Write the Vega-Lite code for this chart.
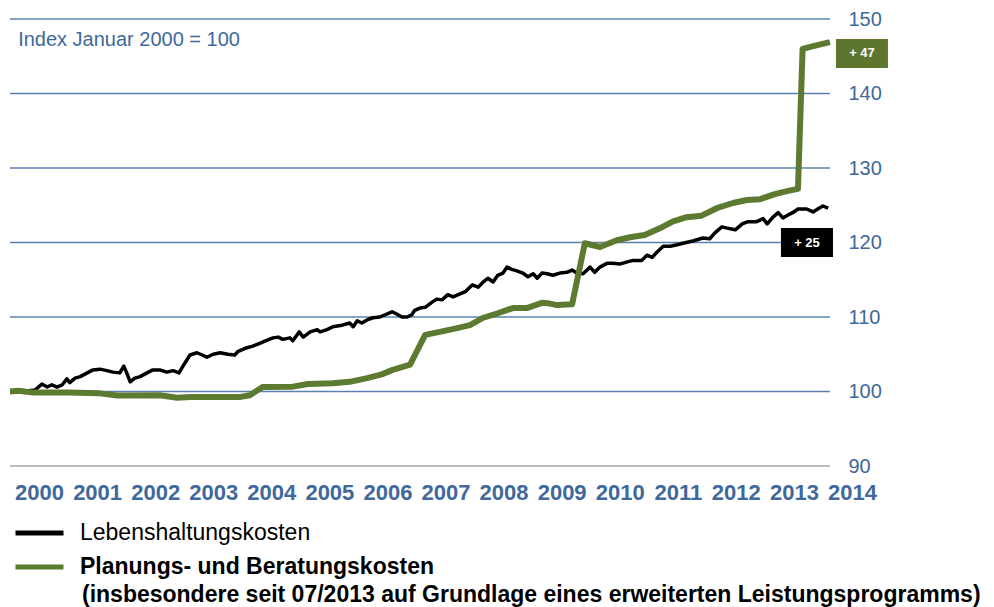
{
  "$schema": "https://vega.github.io/schema/vega-lite/v6.json",
  "width": 871,
  "height": 447,
  "autosize": {"type": "none"},
  "padding": {"left": 10, "top": 19, "right": 113, "bottom": 141},
  "config": {
    "font": "Liberation Sans",
    "view": {"stroke": null},
    "axis": {"title": null, "grid": false, "domain": false, "ticks": false}
  },
  "datasets": {
    "lebens": [
      {"t": 2000.00, "v": 100.0, "s": "Lebenshaltungskosten"},
      {"t": 2000.21, "v": 100.0, "s": "Lebenshaltungskosten"},
      {"t": 2000.43, "v": 100.2, "s": "Lebenshaltungskosten"},
      {"t": 2000.55, "v": 101.0, "s": "Lebenshaltungskosten"},
      {"t": 2000.64, "v": 100.6, "s": "Lebenshaltungskosten"},
      {"t": 2000.72, "v": 100.9, "s": "Lebenshaltungskosten"},
      {"t": 2000.81, "v": 100.6, "s": "Lebenshaltungskosten"},
      {"t": 2000.90, "v": 100.9, "s": "Lebenshaltungskosten"},
      {"t": 2000.98, "v": 101.7, "s": "Lebenshaltungskosten"},
      {"t": 2001.03, "v": 101.2, "s": "Lebenshaltungskosten"},
      {"t": 2001.12, "v": 101.8, "s": "Lebenshaltungskosten"},
      {"t": 2001.21, "v": 102.0, "s": "Lebenshaltungskosten"},
      {"t": 2001.33, "v": 102.5, "s": "Lebenshaltungskosten"},
      {"t": 2001.43, "v": 102.9, "s": "Lebenshaltungskosten"},
      {"t": 2001.55, "v": 103.0, "s": "Lebenshaltungskosten"},
      {"t": 2001.67, "v": 102.8, "s": "Lebenshaltungskosten"},
      {"t": 2001.77, "v": 102.6, "s": "Lebenshaltungskosten"},
      {"t": 2001.89, "v": 102.5, "s": "Lebenshaltungskosten"},
      {"t": 2001.96, "v": 103.4, "s": "Lebenshaltungskosten"},
      {"t": 2002.01, "v": 102.5, "s": "Lebenshaltungskosten"},
      {"t": 2002.07, "v": 101.3, "s": "Lebenshaltungskosten"},
      {"t": 2002.15, "v": 101.8, "s": "Lebenshaltungskosten"},
      {"t": 2002.24, "v": 102.0, "s": "Lebenshaltungskosten"},
      {"t": 2002.36, "v": 102.5, "s": "Lebenshaltungskosten"},
      {"t": 2002.46, "v": 102.9, "s": "Lebenshaltungskosten"},
      {"t": 2002.58, "v": 102.9, "s": "Lebenshaltungskosten"},
      {"t": 2002.70, "v": 102.6, "s": "Lebenshaltungskosten"},
      {"t": 2002.81, "v": 102.8, "s": "Lebenshaltungskosten"},
      {"t": 2002.91, "v": 102.5, "s": "Lebenshaltungskosten"},
      {"t": 2003.01, "v": 103.8, "s": "Lebenshaltungskosten"},
      {"t": 2003.10, "v": 104.9, "s": "Lebenshaltungskosten"},
      {"t": 2003.22, "v": 105.2, "s": "Lebenshaltungskosten"},
      {"t": 2003.31, "v": 104.9, "s": "Lebenshaltungskosten"},
      {"t": 2003.39, "v": 104.6, "s": "Lebenshaltungskosten"},
      {"t": 2003.50, "v": 105.0, "s": "Lebenshaltungskosten"},
      {"t": 2003.62, "v": 105.2, "s": "Lebenshaltungskosten"},
      {"t": 2003.75, "v": 105.0, "s": "Lebenshaltungskosten"},
      {"t": 2003.87, "v": 104.9, "s": "Lebenshaltungskosten"},
      {"t": 2003.93, "v": 105.4, "s": "Lebenshaltungskosten"},
      {"t": 2004.05, "v": 105.8, "s": "Lebenshaltungskosten"},
      {"t": 2004.18, "v": 106.1, "s": "Lebenshaltungskosten"},
      {"t": 2004.31, "v": 106.5, "s": "Lebenshaltungskosten"},
      {"t": 2004.43, "v": 106.9, "s": "Lebenshaltungskosten"},
      {"t": 2004.53, "v": 107.2, "s": "Lebenshaltungskosten"},
      {"t": 2004.62, "v": 107.3, "s": "Lebenshaltungskosten"},
      {"t": 2004.70, "v": 107.0, "s": "Lebenshaltungskosten"},
      {"t": 2004.82, "v": 107.2, "s": "Lebenshaltungskosten"},
      {"t": 2004.87, "v": 106.8, "s": "Lebenshaltungskosten"},
      {"t": 2004.98, "v": 108.0, "s": "Lebenshaltungskosten"},
      {"t": 2005.05, "v": 107.3, "s": "Lebenshaltungskosten"},
      {"t": 2005.17, "v": 108.0, "s": "Lebenshaltungskosten"},
      {"t": 2005.29, "v": 108.3, "s": "Lebenshaltungskosten"},
      {"t": 2005.34, "v": 108.0, "s": "Lebenshaltungskosten"},
      {"t": 2005.46, "v": 108.3, "s": "Lebenshaltungskosten"},
      {"t": 2005.56, "v": 108.7, "s": "Lebenshaltungskosten"},
      {"t": 2005.72, "v": 108.9, "s": "Lebenshaltungskosten"},
      {"t": 2005.85, "v": 109.2, "s": "Lebenshaltungskosten"},
      {"t": 2005.91, "v": 108.7, "s": "Lebenshaltungskosten"},
      {"t": 2005.98, "v": 109.5, "s": "Lebenshaltungskosten"},
      {"t": 2006.06, "v": 109.2, "s": "Lebenshaltungskosten"},
      {"t": 2006.15, "v": 109.6, "s": "Lebenshaltungskosten"},
      {"t": 2006.25, "v": 109.9, "s": "Lebenshaltungskosten"},
      {"t": 2006.37, "v": 110.0, "s": "Lebenshaltungskosten"},
      {"t": 2006.46, "v": 110.3, "s": "Lebenshaltungskosten"},
      {"t": 2006.58, "v": 110.7, "s": "Lebenshaltungskosten"},
      {"t": 2006.66, "v": 110.4, "s": "Lebenshaltungskosten"},
      {"t": 2006.75, "v": 110.0, "s": "Lebenshaltungskosten"},
      {"t": 2006.84, "v": 110.0, "s": "Lebenshaltungskosten"},
      {"t": 2006.92, "v": 110.3, "s": "Lebenshaltungskosten"},
      {"t": 2006.97, "v": 110.9, "s": "Lebenshaltungskosten"},
      {"t": 2007.06, "v": 111.2, "s": "Lebenshaltungskosten"},
      {"t": 2007.15, "v": 111.3, "s": "Lebenshaltungskosten"},
      {"t": 2007.27, "v": 112.0, "s": "Lebenshaltungskosten"},
      {"t": 2007.35, "v": 112.4, "s": "Lebenshaltungskosten"},
      {"t": 2007.44, "v": 112.3, "s": "Lebenshaltungskosten"},
      {"t": 2007.54, "v": 113.0, "s": "Lebenshaltungskosten"},
      {"t": 2007.63, "v": 112.7, "s": "Lebenshaltungskosten"},
      {"t": 2007.75, "v": 113.1, "s": "Lebenshaltungskosten"},
      {"t": 2007.84, "v": 113.4, "s": "Lebenshaltungskosten"},
      {"t": 2007.96, "v": 114.3, "s": "Lebenshaltungskosten"},
      {"t": 2008.06, "v": 114.0, "s": "Lebenshaltungskosten"},
      {"t": 2008.15, "v": 114.7, "s": "Lebenshaltungskosten"},
      {"t": 2008.23, "v": 115.2, "s": "Lebenshaltungskosten"},
      {"t": 2008.32, "v": 114.7, "s": "Lebenshaltungskosten"},
      {"t": 2008.40, "v": 115.6, "s": "Lebenshaltungskosten"},
      {"t": 2008.49, "v": 115.9, "s": "Lebenshaltungskosten"},
      {"t": 2008.56, "v": 116.7, "s": "Lebenshaltungskosten"},
      {"t": 2008.64, "v": 116.4, "s": "Lebenshaltungskosten"},
      {"t": 2008.73, "v": 116.2, "s": "Lebenshaltungskosten"},
      {"t": 2008.83, "v": 115.9, "s": "Lebenshaltungskosten"},
      {"t": 2008.92, "v": 115.4, "s": "Lebenshaltungskosten"},
      {"t": 2009.01, "v": 115.8, "s": "Lebenshaltungskosten"},
      {"t": 2009.08, "v": 115.2, "s": "Lebenshaltungskosten"},
      {"t": 2009.16, "v": 115.9, "s": "Lebenshaltungskosten"},
      {"t": 2009.25, "v": 115.8, "s": "Lebenshaltungskosten"},
      {"t": 2009.35, "v": 115.6, "s": "Lebenshaltungskosten"},
      {"t": 2009.47, "v": 115.9, "s": "Lebenshaltungskosten"},
      {"t": 2009.59, "v": 116.0, "s": "Lebenshaltungskosten"},
      {"t": 2009.68, "v": 116.3, "s": "Lebenshaltungskosten"},
      {"t": 2009.76, "v": 115.9, "s": "Lebenshaltungskosten"},
      {"t": 2009.87, "v": 115.8, "s": "Lebenshaltungskosten"},
      {"t": 2009.99, "v": 116.7, "s": "Lebenshaltungskosten"},
      {"t": 2010.07, "v": 116.0, "s": "Lebenshaltungskosten"},
      {"t": 2010.16, "v": 116.7, "s": "Lebenshaltungskosten"},
      {"t": 2010.28, "v": 117.2, "s": "Lebenshaltungskosten"},
      {"t": 2010.38, "v": 117.2, "s": "Lebenshaltungskosten"},
      {"t": 2010.50, "v": 117.1, "s": "Lebenshaltungskosten"},
      {"t": 2010.63, "v": 117.4, "s": "Lebenshaltungskosten"},
      {"t": 2010.73, "v": 117.6, "s": "Lebenshaltungskosten"},
      {"t": 2010.88, "v": 117.6, "s": "Lebenshaltungskosten"},
      {"t": 2010.97, "v": 118.3, "s": "Lebenshaltungskosten"},
      {"t": 2011.06, "v": 118.0, "s": "Lebenshaltungskosten"},
      {"t": 2011.14, "v": 118.7, "s": "Lebenshaltungskosten"},
      {"t": 2011.25, "v": 119.5, "s": "Lebenshaltungskosten"},
      {"t": 2011.37, "v": 119.5, "s": "Lebenshaltungskosten"},
      {"t": 2011.49, "v": 119.7, "s": "Lebenshaltungskosten"},
      {"t": 2011.59, "v": 119.9, "s": "Lebenshaltungskosten"},
      {"t": 2011.76, "v": 120.2, "s": "Lebenshaltungskosten"},
      {"t": 2011.93, "v": 120.6, "s": "Lebenshaltungskosten"},
      {"t": 2012.05, "v": 120.5, "s": "Lebenshaltungskosten"},
      {"t": 2012.14, "v": 121.3, "s": "Lebenshaltungskosten"},
      {"t": 2012.26, "v": 122.1, "s": "Lebenshaltungskosten"},
      {"t": 2012.37, "v": 121.9, "s": "Lebenshaltungskosten"},
      {"t": 2012.49, "v": 121.7, "s": "Lebenshaltungskosten"},
      {"t": 2012.61, "v": 122.5, "s": "Lebenshaltungskosten"},
      {"t": 2012.71, "v": 122.8, "s": "Lebenshaltungskosten"},
      {"t": 2012.86, "v": 122.8, "s": "Lebenshaltungskosten"},
      {"t": 2012.97, "v": 123.2, "s": "Lebenshaltungskosten"},
      {"t": 2013.04, "v": 122.5, "s": "Lebenshaltungskosten"},
      {"t": 2013.14, "v": 123.4, "s": "Lebenshaltungskosten"},
      {"t": 2013.23, "v": 124.0, "s": "Lebenshaltungskosten"},
      {"t": 2013.31, "v": 123.3, "s": "Lebenshaltungskosten"},
      {"t": 2013.40, "v": 123.7, "s": "Lebenshaltungskosten"},
      {"t": 2013.48, "v": 124.0, "s": "Lebenshaltungskosten"},
      {"t": 2013.57, "v": 124.5, "s": "Lebenshaltungskosten"},
      {"t": 2013.72, "v": 124.5, "s": "Lebenshaltungskosten"},
      {"t": 2013.83, "v": 124.1, "s": "Lebenshaltungskosten"},
      {"t": 2013.93, "v": 124.6, "s": "Lebenshaltungskosten"},
      {"t": 2014.00, "v": 124.9, "s": "Lebenshaltungskosten"},
      {"t": 2014.09, "v": 124.6, "s": "Lebenshaltungskosten"}
    ],
    "planung": [
      {"t": 2000.00, "v": 100.0, "s": "Planungs- und Beratungskosten"},
      {"t": 2000.15, "v": 100.1, "s": "Planungs- und Beratungskosten"},
      {"t": 2000.40, "v": 99.85, "s": "Planungs- und Beratungskosten"},
      {"t": 2001.00, "v": 99.85, "s": "Planungs- und Beratungskosten"},
      {"t": 2001.55, "v": 99.75, "s": "Planungs- und Beratungskosten"},
      {"t": 2001.85, "v": 99.45, "s": "Planungs- und Beratungskosten"},
      {"t": 2002.58, "v": 99.5, "s": "Planungs- und Beratungskosten"},
      {"t": 2002.88, "v": 99.15, "s": "Planungs- und Beratungskosten"},
      {"t": 2003.10, "v": 99.25, "s": "Planungs- und Beratungskosten"},
      {"t": 2003.95, "v": 99.25, "s": "Planungs- und Beratungskosten"},
      {"t": 2004.13, "v": 99.5, "s": "Planungs- und Beratungskosten"},
      {"t": 2004.35, "v": 100.6, "s": "Planungs- und Beratungskosten"},
      {"t": 2004.87, "v": 100.65, "s": "Planungs- und Beratungskosten"},
      {"t": 2005.13, "v": 101.0, "s": "Planungs- und Beratungskosten"},
      {"t": 2005.56, "v": 101.1, "s": "Planungs- und Beratungskosten"},
      {"t": 2005.85, "v": 101.3, "s": "Planungs- und Beratungskosten"},
      {"t": 2006.15, "v": 101.8, "s": "Planungs- und Beratungskosten"},
      {"t": 2006.40, "v": 102.3, "s": "Planungs- und Beratungskosten"},
      {"t": 2006.59, "v": 102.9, "s": "Planungs- und Beratungskosten"},
      {"t": 2006.89, "v": 103.6, "s": "Planungs- und Beratungskosten"},
      {"t": 2007.15, "v": 107.6, "s": "Planungs- und Beratungskosten"},
      {"t": 2007.40, "v": 108.0, "s": "Planungs- und Beratungskosten"},
      {"t": 2007.70, "v": 108.5, "s": "Planungs- und Beratungskosten"},
      {"t": 2007.92, "v": 108.9, "s": "Planungs- und Beratungskosten"},
      {"t": 2008.15, "v": 109.9, "s": "Planungs- und Beratungskosten"},
      {"t": 2008.40, "v": 110.5, "s": "Planungs- und Beratungskosten"},
      {"t": 2008.66, "v": 111.2, "s": "Planungs- und Beratungskosten"},
      {"t": 2008.90, "v": 111.2, "s": "Planungs- und Beratungskosten"},
      {"t": 2009.16, "v": 111.9, "s": "Planungs- und Beratungskosten"},
      {"t": 2009.30, "v": 111.8, "s": "Planungs- und Beratungskosten"},
      {"t": 2009.42, "v": 111.6, "s": "Planungs- und Beratungskosten"},
      {"t": 2009.68, "v": 111.7, "s": "Planungs- und Beratungskosten"},
      {"t": 2009.90, "v": 119.9, "s": "Planungs- und Beratungskosten"},
      {"t": 2010.16, "v": 119.4, "s": "Planungs- und Beratungskosten"},
      {"t": 2010.45, "v": 120.3, "s": "Planungs- und Beratungskosten"},
      {"t": 2010.68, "v": 120.7, "s": "Planungs- und Beratungskosten"},
      {"t": 2010.93, "v": 121.0, "s": "Planungs- und Beratungskosten"},
      {"t": 2011.19, "v": 121.9, "s": "Planungs- und Beratungskosten"},
      {"t": 2011.41, "v": 122.8, "s": "Planungs- und Beratungskosten"},
      {"t": 2011.65, "v": 123.4, "s": "Planungs- und Beratungskosten"},
      {"t": 2011.91, "v": 123.6, "s": "Planungs- und Beratungskosten"},
      {"t": 2012.17, "v": 124.6, "s": "Planungs- und Beratungskosten"},
      {"t": 2012.45, "v": 125.3, "s": "Planungs- und Beratungskosten"},
      {"t": 2012.69, "v": 125.7, "s": "Planungs- und Beratungskosten"},
      {"t": 2012.91, "v": 125.8, "s": "Planungs- und Beratungskosten"},
      {"t": 2013.17, "v": 126.5, "s": "Planungs- und Beratungskosten"},
      {"t": 2013.38, "v": 126.9, "s": "Planungs- und Beratungskosten"},
      {"t": 2013.57, "v": 127.2, "s": "Planungs- und Beratungskosten"},
      {"t": 2013.65, "v": 146.0, "s": "Planungs- und Beratungskosten"},
      {"t": 2013.85, "v": 146.4, "s": "Planungs- und Beratungskosten"},
      {"t": 2014.12, "v": 146.9, "s": "Planungs- und Beratungskosten"}
    ]
  },
  "layer": [
    {
      "data": {"values": [{"g": 90}, {"g": 100}, {"g": 110}, {"g": 120}, {"g": 130}, {"g": 140}, {"g": 150}]},
      "mark": {"type": "rule", "strokeWidth": 1.5},
      "encoding": {
        "x": {
          "datum": 2000, "type": "quantitative",
          "scale": {"domain": [2000, 2015], "nice": false, "zero": false},
          "axis": {
            "orient": "bottom",
            "values": [2000.5, 2001.5, 2002.5, 2003.5, 2004.5, 2005.5, 2006.5, 2007.5, 2008.5, 2009.5, 2010.5, 2011.5, 2012.5, 2013.5, 2014.5],
            "labelExpr": "'' + floor(datum.value)",
            "labelFontSize": 22, "labelFontWeight": "bold", "labelColor": "#40689a",
            "labelPadding": 16, "labelFlush": false, "labelOverlap": false, "title": null
          }
        },
        "x2": {"datum": 2014.12},
        "y": {
          "field": "g", "type": "quantitative",
          "scale": {"domain": [90, 150], "nice": false, "zero": false},
          "axis": {
            "orient": "right", "offset": -51,
            "values": [90, 100, 110, 120, 130, 140, 150],
            "labelFontSize": 20, "labelColor": "#40689a", "labelPadding": 18, "title": null
          }
        },
        "stroke": {"condition": {"test": "datum.g == 90", "value": "#a8a8a8"}, "value": "#5b80ae"}
      }
    },
    {
      "data": {"name": "lebens"},
      "mark": {"type": "line", "strokeWidth": 3.5, "strokeJoin": "round"},
      "encoding": {
        "x": {"field": "t", "type": "quantitative", "title": null},
        "y": {"field": "v", "type": "quantitative", "title": null},
        "color": {
          "field": "s", "type": "nominal",
          "scale": {"domain": ["Lebenshaltungskosten", "Planungs- und Beratungskosten"], "range": ["#000000", "#5d7a31"]},
          "legend": {
            "title": "(insbesondere seit 07/2013 auf Grundlage eines erweiterten Leistungsprogramms)",
            "titleOrient": "bottom", "titleAnchor": "start", "titleFontSize": 23, "titleFontWeight": "bold",
            "titleColor": "#000000", "titlePadding": 14, "titleLimit": 2000, "titleBaseline": "middle",
            "orient": "none", "legendX": 3, "legendY": 500, "padding": 0,
            "symbolType": "stroke", "symbolSize": 2304, "symbolStrokeWidth": 5,
            "clipHeight": 28,
            "labelFontSize": 23, "labelColor": "#000000", "labelOffset": 14, "labelLimit": 2000,
            "rowPadding": 6,
            "encode": {
              "labels": {"update": {"fontWeight": {"signal": "datum.value == 'Planungs- und Beratungskosten' ? 'bold' : 'normal'"}}},
              "title": {"update": {"dx": {"value": 69}}}
            }
          }
        }
      }
    },
    {
      "data": {"name": "planung"},
      "mark": {"type": "line", "strokeWidth": 6, "strokeJoin": "round"},
      "encoding": {
        "x": {"field": "t", "type": "quantitative", "title": null},
        "y": {"field": "v", "type": "quantitative", "title": null},
        "color": {"field": "s", "type": "nominal"}
      }
    },
    {
      "data": {"values": [{}]},
      "mark": {"type": "rect", "color": "#5e7530"},
      "encoding": {
        "x": {"datum": 2014.224, "type": "quantitative"},
        "x2": {"datum": 2015.12},
        "y": {"datum": 147.32, "type": "quantitative"},
        "y2": {"datum": 143.42}
      }
    },
    {
      "data": {"values": [{}]},
      "mark": {"type": "text", "color": "#ffffff", "fontSize": 13, "fontWeight": "bold", "align": "center", "baseline": "middle"},
      "encoding": {
        "x": {"datum": 2014.672, "type": "quantitative"},
        "y": {"datum": 145.37, "type": "quantitative"},
        "text": {"value": "+ 47"}
      }
    },
    {
      "data": {"values": [{}]},
      "mark": {"type": "rect", "color": "#000000"},
      "encoding": {
        "x": {"datum": 2013.277, "type": "quantitative"},
        "x2": {"datum": 2014.173},
        "y": {"datum": 121.95, "type": "quantitative"},
        "y2": {"datum": 118.05}
      }
    },
    {
      "data": {"values": [{}]},
      "mark": {"type": "text", "color": "#ffffff", "fontSize": 13, "fontWeight": "bold", "align": "center", "baseline": "middle"},
      "encoding": {
        "x": {"datum": 2013.725, "type": "quantitative"},
        "y": {"datum": 120.0, "type": "quantitative"},
        "text": {"value": "+ 25"}
      }
    },
    {
      "data": {"values": [{}]},
      "mark": {"type": "text", "color": "#40689a", "fontSize": 20, "align": "left", "baseline": "middle"},
      "encoding": {
        "x": {"datum": 2000.14, "type": "quantitative"},
        "y": {"datum": 147.2, "type": "quantitative"},
        "text": {"value": "Index Januar 2000 = 100"}
      }
    }
  ]
}
